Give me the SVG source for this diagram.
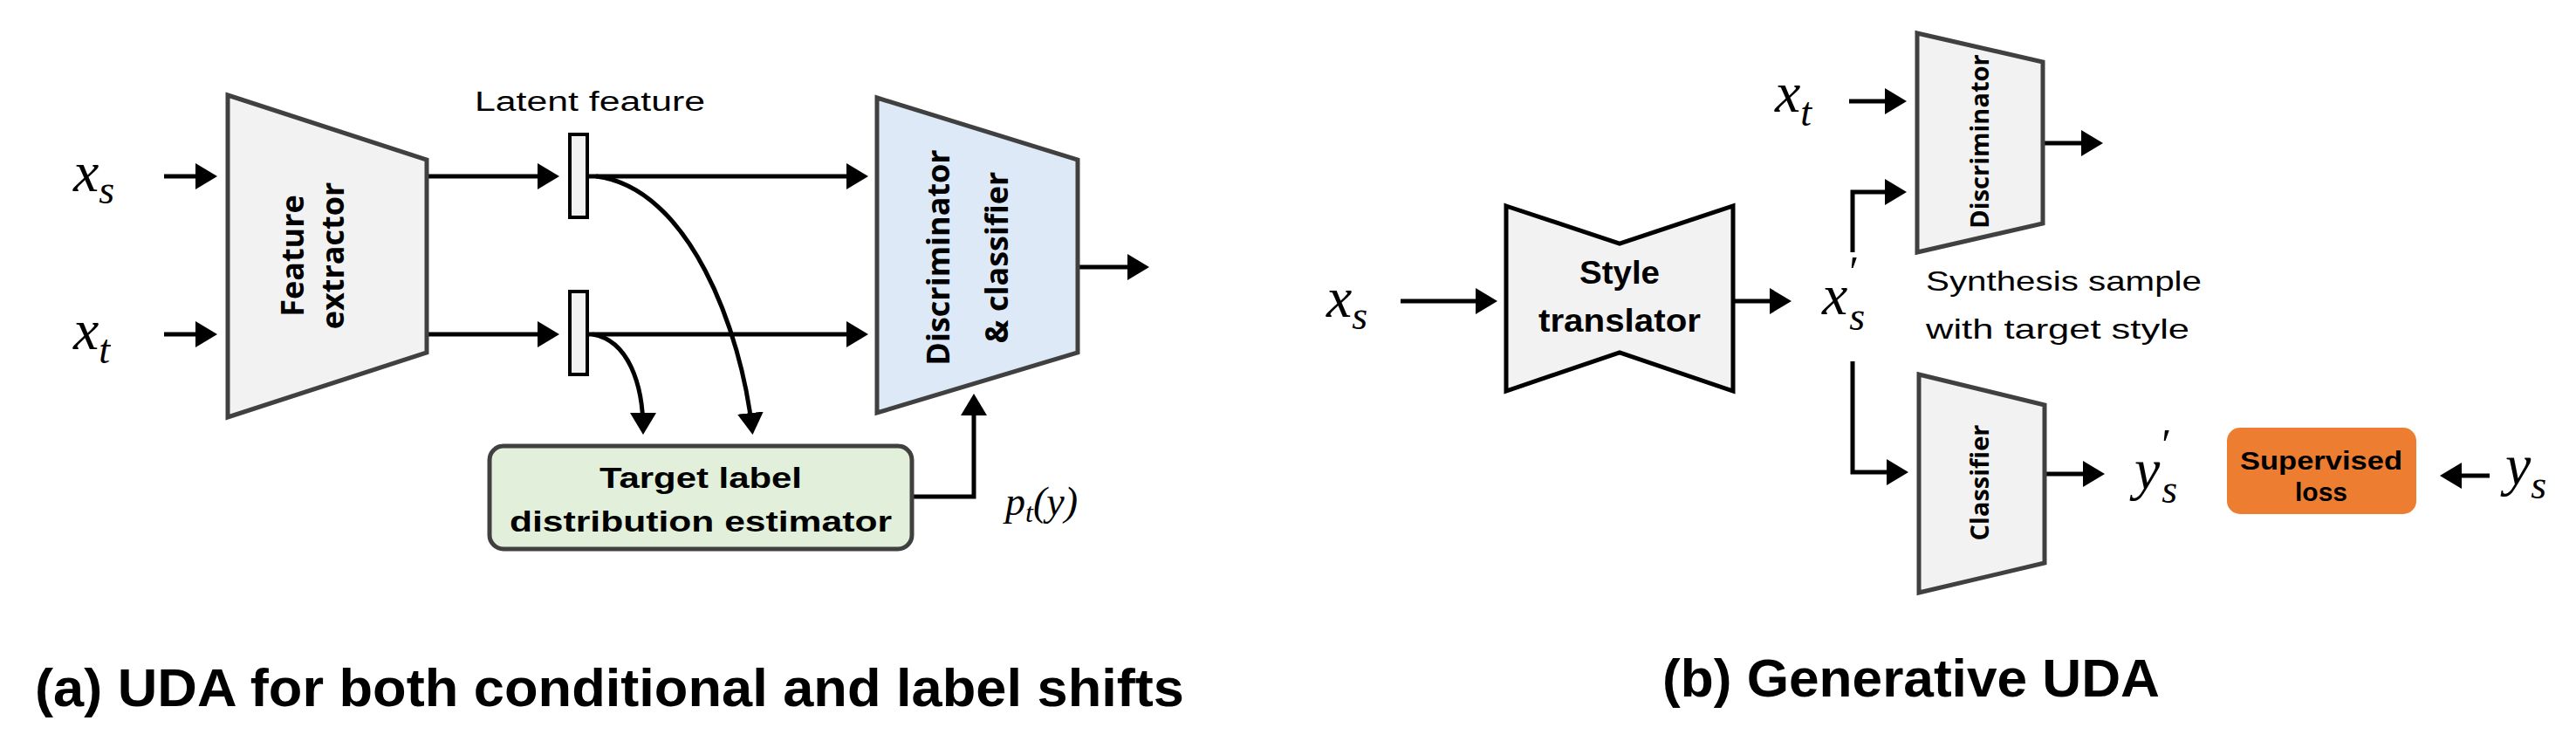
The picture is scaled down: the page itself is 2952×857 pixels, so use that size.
<svg xmlns="http://www.w3.org/2000/svg" width="2952" height="857" viewBox="0 0 2952 857">
<style>
.blk{fill:#f2f2f2;stroke:#404040;stroke-width:5}
.ln{fill:none;stroke:#000;stroke-width:5}
.m{font-family:"Liberation Serif",serif;font-style:italic;fill:#000}
.lb{font-family:"Open Sans","Liberation Sans",sans-serif;font-weight:bold;fill:#000}
.nr{font-family:"Liberation Sans",sans-serif;fill:#000}
.cap{font-family:"Liberation Sans",sans-serif;font-weight:bold;font-size:62px;fill:#000}
</style>
<defs>
<marker id="ah" markerWidth="6" markerHeight="6" refX="4" refY="3" orient="auto" markerUnits="strokeWidth">
<path d="M0,0 L5,3 L0,6 Z" fill="#000"/>
</marker>
</defs>
<rect width="2952" height="857" fill="#fff"/>
<g id="connectors">
<line class="ln" x1="188" y1="202" x2="244" y2="202" marker-end="url(#ah)"/>
<line class="ln" x1="188" y1="383" x2="244" y2="383" marker-end="url(#ah)"/>
<line class="ln" x1="489" y1="202" x2="636" y2="202" marker-end="url(#ah)"/>
<line class="ln" x1="674" y1="202" x2="990" y2="202" marker-end="url(#ah)"/>
<line class="ln" x1="489" y1="383" x2="636" y2="383" marker-end="url(#ah)"/>
<line class="ln" x1="674" y1="383" x2="990" y2="383" marker-end="url(#ah)"/>
<line class="ln" x1="1235" y1="306" x2="1312" y2="306" marker-end="url(#ah)"/>
<path class="ln" d="M683,202 C790,215 850,380 862,493" marker-end="url(#ah)"/>
<path class="ln" d="M679,383 C720,390 737,440 737,493" marker-end="url(#ah)"/>
<path class="ln" d="M1045,569 L1116,569 L1116,456" marker-end="url(#ah)"/>
<line class="ln" x1="1605" y1="345" x2="1711" y2="345" marker-end="url(#ah)"/>
<line class="ln" x1="1986" y1="345" x2="2048" y2="345" marker-end="url(#ah)"/>
<line class="ln" x1="2119" y1="116" x2="2180" y2="116" marker-end="url(#ah)"/>
<path class="ln" d="M2123,289 L2123,220 L2180,220" marker-end="url(#ah)"/>
<line class="ln" x1="2341" y1="164" x2="2405" y2="164" marker-end="url(#ah)"/>
<path class="ln" d="M2123,414 L2123,541 L2182,541" marker-end="url(#ah)"/>
<line class="ln" x1="2343" y1="543" x2="2407" y2="543" marker-end="url(#ah)"/>
<line class="ln" x1="2853" y1="545" x2="2801" y2="545" marker-end="url(#ah)"/>
</g>
<g id="xs_a"><text class="m" x="84" y="219" font-size="66">x<tspan font-size="46" dy="14">s</tspan></text></g>
<g id="xt_a"><text class="m" x="84" y="400" font-size="66">x<tspan font-size="46" dy="16">t</tspan></text></g>
<g id="feature_extractor">
<polygon class="blk" points="261,109 489,183 489,404 261,478"/>
<text class="lb" font-size="36" transform="translate(348,293) rotate(-90)" text-anchor="middle">Feature</text>
<text class="lb" font-size="36" transform="translate(394,293) rotate(-90)" text-anchor="middle">extractor</text>
</g>
<g id="latent">
<text class="nr" x="676" y="127" font-size="31" text-anchor="middle" textLength="264" lengthAdjust="spacingAndGlyphs">Latent feature</text>
<rect x="653" y="154" width="20" height="95" fill="#f2f2f2" stroke="#000" stroke-width="4"/>
<rect x="653" y="334" width="20" height="95" fill="#f2f2f2" stroke="#000" stroke-width="4"/>
</g>
<g id="disc_cls">
<polygon class="blk" style="fill:#dde9f6" points="1005,112 1235,183 1235,404 1005,473"/>
<text class="lb" font-size="36" transform="translate(1088,295) rotate(-90)" text-anchor="middle">Discriminator</text>
<text class="lb" font-size="36" transform="translate(1155,295) rotate(-90)" text-anchor="middle">&amp; classifier</text>
</g>
<g id="estimator">
<rect x="561" y="511" width="484" height="118" rx="16" fill="#e2efda" stroke="#404040" stroke-width="5"/>
<text class="nr" font-weight="bold" x="803" y="559" font-size="34" text-anchor="middle" textLength="232" lengthAdjust="spacingAndGlyphs">Target label</text>
<text class="nr" font-weight="bold" x="803" y="609" font-size="34" text-anchor="middle" textLength="438" lengthAdjust="spacingAndGlyphs">distribution estimator</text>
</g>
<g id="pty"><text class="m" x="1152" y="590" font-size="46">p<tspan font-size="32" dy="8">t</tspan><tspan font-size="46" dy="-8">(y)</tspan></text></g>
<text class="cap" x="40" y="809" textLength="1317" lengthAdjust="spacingAndGlyphs">(a) UDA for both conditional and label shifts</text>

<g id="xs_b"><text class="m" x="1520" y="363" font-size="66">x<tspan font-size="46" dy="14">s</tspan></text></g>
<g id="style_translator">
<polygon class="blk" style="stroke:#000" points="1726,236 1856,279 1986,236 1986,448 1856,404 1726,448"/>
<text class="nr" font-weight="bold" x="1856" y="325" font-size="36" text-anchor="middle" textLength="92" lengthAdjust="spacingAndGlyphs">Style</text>
<text class="nr" font-weight="bold" x="1856" y="380" font-size="36" text-anchor="middle" textLength="186" lengthAdjust="spacingAndGlyphs">translator</text>
</g>
<g id="xsp"><text class="m" x="2088" y="360" font-size="66">x<tspan font-size="46" dx="2" dy="18">s</tspan><tspan font-size="50" dx="-18" dy="-50" font-style="normal">′</tspan></text></g>
<g id="xt_b"><text class="m" x="2034" y="128" font-size="66">x<tspan font-size="46" dy="16">t</tspan></text></g>
<g id="discriminator">
<polygon class="blk" points="2197,38 2341,71 2341,256 2197,289"/>
<text class="lb" font-size="29" transform="translate(2279,162) rotate(-90)" text-anchor="middle">Discriminator</text>
</g>
<g id="synth">
<text class="nr" x="2207" y="333" font-size="32" textLength="316" lengthAdjust="spacingAndGlyphs">Synthesis sample</text>
<text class="nr" x="2207" y="388" font-size="32" textLength="302" lengthAdjust="spacingAndGlyphs">with target style</text>
</g>
<g id="classifier">
<polygon class="blk" points="2199,429 2343,464 2343,645 2199,679"/>
<text class="lb" font-size="29" transform="translate(2279,553) rotate(-90)" text-anchor="middle">Classifier</text>
</g>
<g id="ysp"><text class="m" x="2446" y="560" font-size="66">y<tspan font-size="46" dx="2" dy="16">s</tspan><tspan font-size="50" dx="-18" dy="-50" font-style="normal">′</tspan></text></g>
<g id="sup_loss">
<rect x="2552" y="490" width="217" height="99" rx="15" fill="#ed7d31"/>
<text class="nr" font-weight="bold" x="2660" y="538" font-size="30" text-anchor="middle" textLength="186" lengthAdjust="spacingAndGlyphs">Supervised</text>
<text class="nr" font-weight="bold" x="2660" y="574" font-size="30" text-anchor="middle">loss</text>
</g>
<g id="ys"><text class="m" x="2871" y="555" font-size="66">y<tspan font-size="46" dy="16">s</tspan></text></g>
<text class="cap" x="1905" y="798" textLength="570" lengthAdjust="spacingAndGlyphs">(b) Generative UDA</text>
</svg>
